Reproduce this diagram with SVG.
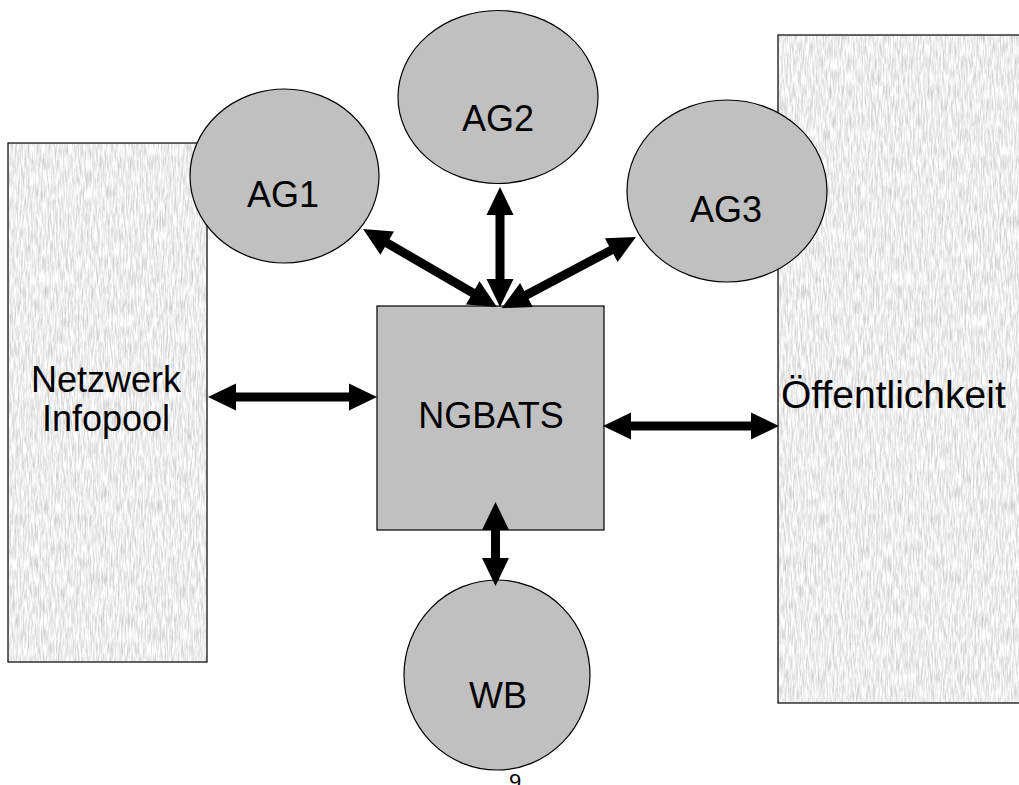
<svg xmlns="http://www.w3.org/2000/svg" width="1019" height="785" viewBox="0 0 1019 785">
  <defs>
    <filter id="tex" x="0" y="0" width="1" height="1" color-interpolation-filters="sRGB">
      <feTurbulence type="fractalNoise" baseFrequency="0.6 0.07" numOctaves="3" seed="7" result="n"/>
      <feColorMatrix in="n" type="matrix" values="-0.38 0 0 0 1.12  -0.38 0 0 0 1.12  -0.38 0 0 0 1.12  0 0 0 0 1" result="g"/>
      <feComposite in="g" in2="SourceGraphic" operator="in"/>
    </filter>
  </defs>
  <style>
    .lbl { font-family: "Liberation Sans", Arial, sans-serif; font-size: 36px; fill: #000; }
    .mid { text-anchor: middle; }
    .node { fill: #c0c0c0; stroke: #000; stroke-width: 1.2; }
    .side { fill: #ececec; stroke: #000; stroke-width: 1.2; }
    .arr { fill: #000; }
  </style>
  <rect width="1019" height="785" fill="#fff"/>

  <g id="netzwerk-infopool">
    <rect class="side" x="8" y="143" width="199" height="519"/>
    <rect x="9" y="144" width="197" height="517" fill="#fff" filter="url(#tex)"/>
    <text class="lbl mid" x="106" y="392">Netzwerk</text>
    <text class="lbl mid" x="106" y="431">Infopool</text>
  </g>

  <g id="oeffentlichkeit">
    <rect class="side" x="778" y="35" width="250" height="668"/>
    <rect x="779" y="36" width="250" height="666" fill="#fff" filter="url(#tex)"/>
    <text class="lbl" x="781" y="408" style="font-size: 39px;">Öffentlichkeit</text>
  </g>

  <g id="ag1">
    <ellipse class="node" cx="284.5" cy="176" rx="94.5" ry="87"/>
    <text class="lbl mid" x="283" y="207">AG1</text>
  </g>

  <g id="ag2">
    <ellipse class="node" cx="498" cy="97" rx="100" ry="86.5"/>
    <text class="lbl mid" x="498" y="131">AG2</text>
  </g>

  <g id="ag3">
    <ellipse class="node" cx="727" cy="191" rx="100" ry="91"/>
    <text class="lbl mid" x="726" y="222">AG3</text>
  </g>

  <g id="ngbats">
    <rect class="node" x="377" y="306" width="227" height="224"/>
    <text class="lbl mid" x="491" y="428">NGBATS</text>
  </g>

  <g id="wb">
    <ellipse class="node" cx="497" cy="675" rx="93" ry="95"/>
    <text class="lbl mid" x="498" y="708">WB</text>
  </g>

  <g id="connectors">
    <path class="arr" transform="translate(208,397)" d="M0,0 L28,-13.5 L28,-4.5 L141,-4.5 L141,-13.5 L169,0 L141,13.5 L141,4.5 L28,4.5 L28,13.5 Z"/>
    <path class="arr" transform="translate(603,426)" d="M0,0 L28,-13.5 L28,-4.5 L148,-4.5 L148,-13.5 L176,0 L148,13.5 L148,4.5 L28,4.5 L28,13.5 Z"/>
    <path class="arr" transform="translate(495.5,502) rotate(90)" d="M0,0 L28,-13.5 L28,-4.5 L56,-4.5 L56,-13.5 L84,0 L56,13.5 L56,4.5 L28,4.5 L28,13.5 Z"/>
    <path class="arr" transform="translate(500,187) rotate(90)" d="M0,0 L28,-13.5 L28,-4.5 L92,-4.5 L92,-13.5 L120,0 L92,13.5 L92,4.5 L28,4.5 L28,13.5 Z"/>
    <path class="arr" transform="translate(363,229) rotate(30.2)" d="M0,0 L28,-13.5 L28,-4.5 L127,-4.5 L127,-13.5 L155,0 L127,13.5 L127,4.5 L28,4.5 L28,13.5 Z"/>
    <path class="arr" transform="translate(636,237) rotate(152.1)" d="M0,0 L28,-13.5 L28,-4.5 L124,-4.5 L124,-13.5 L152,0 L124,13.5 L124,4.5 L28,4.5 L28,13.5 Z"/>
  </g>

  <text x="515" y="789" style="font-family: 'Liberation Sans', Arial, sans-serif; font-size: 22px;" text-anchor="middle">9</text>
</svg>
